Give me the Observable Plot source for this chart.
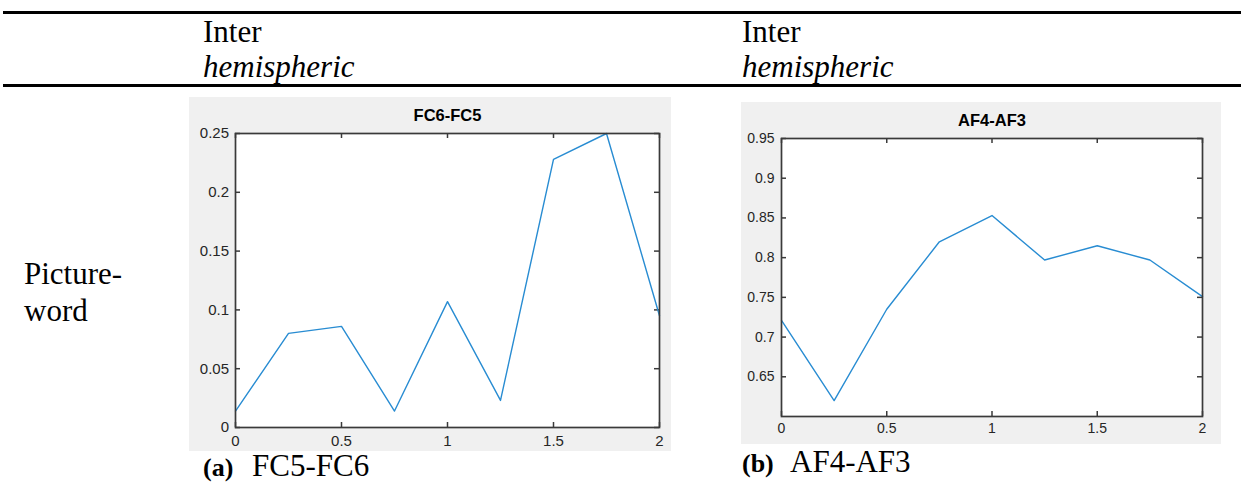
<!DOCTYPE html>
<html>
<head>
<meta charset="utf-8">
<script src="https://cdn.jsdelivr.net/npm/d3@7"></script>
<script src="https://cdn.jsdelivr.net/npm/@observablehq/plot@0.6"></script>
<style>
  html, body { margin: 0; padding: 0; background: #fff; }
  #page { position: relative; width: 1241px; height: 485px; overflow: hidden; font-family: "Liberation Serif", "Times New Roman", serif; color: #000; }
  .rule { position: absolute; left: 3px; right: 0; height: 3px; background: #000; }
  .t { position: absolute; white-space: nowrap; font-size: 31px; line-height: 35px; }
  .panel { position: absolute; }
</style>
</head>
<body>
<div id="page">
  <div class="rule" style="top:11px"></div>
  <div class="rule" style="top:84px"></div>
  <div class="t" style="left:203px; top:14px;">Inter<br><i>hemispheric</i></div>
  <div class="t" style="left:742px; top:14px;">Inter<br><i>hemispheric</i></div>
  <div class="t" style="left:24px; top:256px; line-height:36.7px;">Picture-<br>word</div>
  <div class="t" style="left:203px; top:448px; line-height:36px;"><b style="font-size:26px">(a)</b></div>
  <div class="t" style="left:252px; top:448px; line-height:36px;">FC5-FC6</div>
  <div class="t" style="left:742px; top:444px; line-height:36px;"><b style="font-size:26px">(b)</b></div>
  <div class="t" style="left:790px; top:444px; line-height:36px; font-size:31px;">AF4-AF3</div>
  <div class="panel" id="left" style="left:189px; top:97px;"></div>
  <div class="panel" id="right" style="left:741px; top:102px;"></div>
</div>
<script>
// ---- data ----
const xValues = [0, 0.25, 0.5, 0.75, 1, 1.25, 1.5, 1.75, 2];
const fc6fc5 = [0.014, 0.080, 0.086, 0.014, 0.107, 0.023, 0.228, 0.250, 0.095];
const af4af3 = [0.721, 0.620, 0.735, 0.820, 0.853, 0.797, 0.815, 0.797, 0.751];
const xTicks = [0, 0.5, 1, 1.5, 2];
const leftYTicks = [0, 0.05, 0.1, 0.15, 0.2, 0.25];
const rightYTicks = [0.65, 0.7, 0.75, 0.8, 0.85, 0.9, 0.95];
const leftTitle = "FC6-FC5";
const rightTitle = "AF4-AF3";

const fmt = d => String(+d.toFixed(2));

function panel({values, yDomain, yTicks, title, width, height, ml, mr, mt, mb, fs, padX, padY}) {
  const data = xValues.map((x, i) => ({x, y: values[i]}));
  const fw = width - ml - mr, fh = height - mt - mb;
  const ink = "#262626";
  const box = "#3a3a3a";
  return Plot.plot({
    width, height,
    marginLeft: ml, marginRight: mr, marginTop: mt, marginBottom: mb,
    style: {background: "#f0f0f0", fontFamily: "'Liberation Sans', Arial, sans-serif", fontSize: fs + "px", color: ink, overflow: "visible"},
    x: {domain: [0, 2], label: null},
    y: {domain: yDomain, label: null},
    marks: [
      Plot.frame({fill: "white", stroke: null}),
      Plot.tickX(xTicks, {x: d => d, insetTop: fh - 5, stroke: box, strokeWidth: 1.5}),
      Plot.tickX(xTicks, {x: d => d, insetBottom: fh - 5, stroke: box, strokeWidth: 1.5}),
      Plot.tickY(yTicks, {y: d => d, insetRight: fw - 5, stroke: box, strokeWidth: 1.5}),
      Plot.tickY(yTicks, {y: d => d, insetLeft: fw - 5, stroke: box, strokeWidth: 1.5}),
      Plot.lineY(data, {x: "x", y: "y", stroke: "#288cd2", strokeWidth: 1.4}),
      Plot.frame({stroke: box, strokeWidth: 1.7}),
      Plot.axisX({ticks: xTicks, tickFormat: fmt, tickSize: 0, tickPadding: padX, label: null}),
      Plot.axisY({ticks: yTicks, tickFormat: fmt, tickSize: 0, tickPadding: padY, label: null}),
      Plot.text([title], {text: d => d, frameAnchor: "top", dy: -13, lineAnchor: "bottom", fontWeight: "bold", fontSize: 16.5, fill: "#000"})
    ]
  });
}

document.getElementById("left").append(panel({
  values: fc6fc5, yDomain: [0, 0.25], yTicks: leftYTicks, title: leftTitle,
  width: 482, height: 354, ml: 46, mr: 12, mt: 36, mb: 24, fs: 15, padX: 8, padY: 6.5
}));
document.getElementById("right").append(panel({
  values: af4af3, yDomain: [0.6, 0.95], yTicks: rightYTicks, title: rightTitle,
  width: 480, height: 342, ml: 40, mr: 19, mt: 36, mb: 28, fs: 14, padX: 7, padY: 7
}));
</script>
</body>
</html>
